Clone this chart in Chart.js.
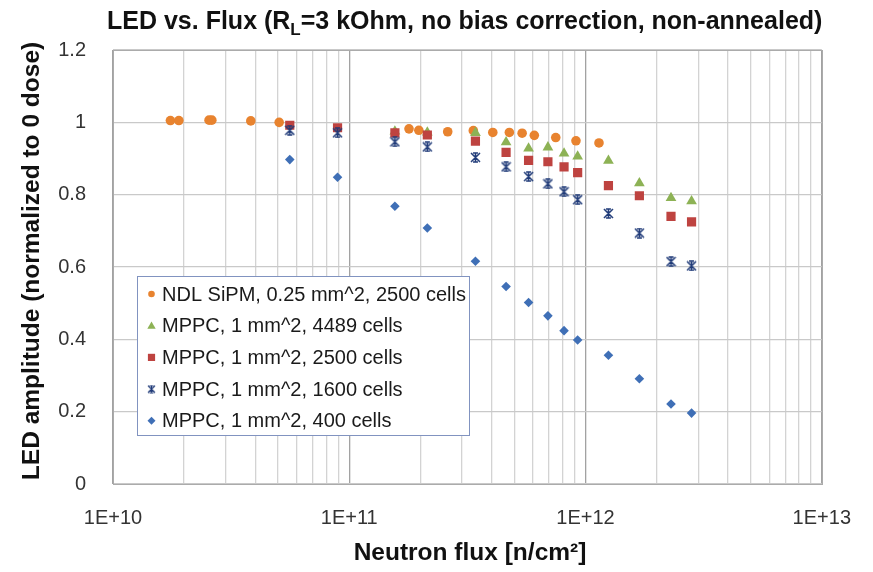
<!DOCTYPE html>
<html>
<head>
<meta charset="utf-8">
<script src="https://cdn.jsdelivr.net/npm/chart.js@4"></script>
<style>
  html, body { margin: 0; padding: 0; background: #fff; }
  #wrap { width: 873px; height: 572px; position: relative; }
</style>
</head>
<body>
<div id="wrap"><canvas id="ledFlux"></canvas></div>
<script>
(function () {
    'use strict';

    // NDL SiPM points (own flux values)
    var ndlFlux = [1.75e10, 1.90e10, 2.55e10, 2.62e10, 3.83e10, 5.05e10, 1.79e11, 1.97e11, 2.61e11,
        3.35e11, 4.05e11, 4.76e11, 5.39e11, 6.07e11, 7.48e11, 9.11e11, 1.14e12];
    var ndlAmp = [1.005, 1.005, 1.006, 1.006, 1.004, 1.000, 0.982, 0.978, 0.974,
        0.977, 0.972, 0.972, 0.970, 0.964, 0.958, 0.949, 0.943];

    // MPPC runs share the same flux steps
    var mppcFlux = [5.60e10, 8.92e10, 1.56e11, 2.14e11, 3.42e11, 4.61e11, 5.74e11,
        6.93e11, 8.11e11, 9.26e11, 1.25e12, 1.69e12, 2.30e12, 2.81e12];
    var amp4489 = [null, null, 0.975, 0.972, 0.971, 0.945, 0.928,
        0.931, 0.914, 0.906, 0.894, 0.832, 0.791, 0.782];
    var amp2500 = [0.992, 0.985, 0.971, 0.965, 0.948, 0.917, 0.895,
        0.891, 0.877, 0.861, 0.825, 0.797, 0.740, 0.725];
    var amp1600 = [0.978, 0.971, 0.946, 0.932, 0.903, 0.877, 0.850,
        0.830, 0.808, 0.786, 0.748, 0.694, 0.615, 0.603];
    var amp400 = [0.897, 0.848, 0.768, 0.708, 0.616, 0.546, 0.502,
        0.465, 0.424, 0.398, 0.356, 0.291, 0.221, 0.196];

    var seriesLabels = [
        'NDL SiPM, 0.25 mm^2, 2500 cells',
        'MPPC, 1 mm^2, 4489 cells',
        'MPPC, 1 mm^2, 2500 cells',
        'MPPC, 1 mm^2, 1600 cells',
        'MPPC, 1 mm^2, 400 cells'
    ];
    var seriesColors = ['#E8832F', '#8DB255', '#BE4340', '#1F3A78', '#3F6FB6'];

    var decadeValues = [1e10, 1e11, 1e12, 1e13];
    var decadeLabels = ['1E+10', '1E+11', '1E+12', '1E+13'];
    var yTickValues = [0, 0.2, 0.4, 0.6, 0.8, 1, 1.2];
    var yTickLabels = ['0', '0.2', '0.4', '0.6', '0.8', '1', '1.2'];

    var FONT = '"Liberation Sans", Arial, sans-serif';

    function pts(xs, ys) {
        var out = [];
        for (var i = 0; i < xs.length; i++) {
            if (ys[i] != null) out.push({ x: xs[i], y: ys[i] });
        }
        return out;
    }

    // excel-like star marker: X + vertical stroke + short caps
    function starMarker(size, color, lw) {
        var c = document.createElement('canvas');
        c.width = size;
        c.height = size;
        var g = c.getContext('2d');
        var h = size / 2, r = size / 2 - 1, cap = r * 0.55;
        g.strokeStyle = color;
        g.lineWidth = lw;
        g.beginPath();
        g.moveTo(h - r, h - r); g.lineTo(h + r, h + r);
        g.moveTo(h + r, h - r); g.lineTo(h - r, h + r);
        g.moveTo(h, h - r); g.lineTo(h, h + r);
        g.moveTo(h - cap, h - r); g.lineTo(h + cap, h - r);
        g.moveTo(h - cap, h + r); g.lineTo(h + cap, h + r);
        g.stroke();
        return c;
    }
    var starBig = starMarker(11, seriesColors[3], 1.5);
    var starSmall = starMarker(9, seriesColors[3], 1.2);

    function decade(v) {
        var l = Math.log10(v);
        return Math.abs(l - Math.round(l)) < 1e-9;
    }

    var styles = [
        { pointStyle: 'circle', radius: 4.8 },
        { pointStyle: 'triangle', radius: 6.2 },
        { pointStyle: 'rect', radius: 6.5 },
        { pointStyle: starBig, radius: 5 },
        { pointStyle: 'rectRot', radius: 4.8 }
    ];
    var seriesData = [pts(ndlFlux, ndlAmp), pts(mppcFlux, amp4489), pts(mppcFlux, amp2500),
        pts(mppcFlux, amp1600), pts(mppcFlux, amp400)];

    var datasets = seriesData.map(function (d, i) {
        return {
            label: seriesLabels[i],
            data: d,
            showLine: false,
            order: 5 - i,
            pointStyle: styles[i].pointStyle,
            pointRadius: styles[i].radius,
            pointHoverRadius: styles[i].radius,
            backgroundColor: seriesColors[i],
            borderColor: seriesColors[i],
            borderWidth: 0
        };
    });

    // title with subscript, axis titles, frame and the boxed legend
    var decorations = {
        id: 'decorations',
        afterDraw: function (chart) {
            var ctx = chart.ctx;
            var a = chart.chartArea;
            ctx.save();

            ctx.strokeStyle = '#ababab';
            ctx.lineWidth = 1;
            ctx.strokeRect(Math.round(a.left) + 0.5, Math.round(a.top) + 0.5,
                Math.round(a.right - a.left), Math.round(a.bottom - a.top));

            ctx.fillStyle = '#111';
            ctx.textBaseline = 'alphabetic';
            var big = 'bold 25px ' + FONT;
            var sub = 'bold 17px ' + FONT;
            var parts = [['LED vs. Flux (R', big, 0], ['L', sub, 6], ['=3 kOhm, no bias correction, non-annealed)', big, 0]];
            var x = 107;
            parts.forEach(function (p) {
                ctx.font = p[1];
                ctx.textAlign = 'left';
                ctx.fillText(p[0], x, 29 + p[2]);
                x += ctx.measureText(p[0]).width;
            });

            ctx.font = 'bold 24.5px ' + FONT;
            ctx.textAlign = 'center';
            ctx.textBaseline = 'middle';
            ctx.fillText('Neutron flux [n/cm\u00B2]', 470, 553);

            ctx.save();
            ctx.translate(32, 261);
            ctx.rotate(-Math.PI / 2);
            ctx.fillText('LED amplitude (normalized to 0 dose)', 0, 0);
            ctx.restore();

            // legend box
            var bx = 137.5, by = 276.5, bw = 332, bh = 159;
            ctx.fillStyle = '#fff';
            ctx.fillRect(bx, by, bw, bh);
            ctx.strokeStyle = '#8193c0';
            ctx.lineWidth = 1;
            ctx.strokeRect(bx, by, bw, bh);

            ctx.font = '20px ' + FONT;
            ctx.textAlign = 'left';
            ctx.textBaseline = 'middle';
            seriesLabels.forEach(function (label, i) {
                var ly = 294 + i * 31.7;
                var mx = 151.5;
                ctx.fillStyle = seriesColors[i];
                ctx.beginPath();
                if (i === 0) {
                    ctx.arc(mx, ly, 3.3, 0, Math.PI * 2);
                } else if (i === 1) {
                    ctx.moveTo(mx, ly - 4.2); ctx.lineTo(mx + 4.2, ly + 3); ctx.lineTo(mx - 4.2, ly + 3);
                } else if (i === 2) {
                    ctx.rect(mx - 3.6, ly - 3.6, 7.2, 7.2);
                } else if (i === 4) {
                    ctx.moveTo(mx, ly - 4); ctx.lineTo(mx + 4, ly); ctx.lineTo(mx, ly + 4); ctx.lineTo(mx - 4, ly);
                }
                ctx.closePath();
                ctx.fill();
                if (i === 3) ctx.drawImage(starSmall, mx - 4.5, ly - 4.5);
                ctx.fillStyle = '#1a1a1a';
                ctx.fillText(label, 162, ly + 1);
            });

            ctx.restore();
        }
    };

    new Chart(document.getElementById('ledFlux'), {
        type: 'scatter',
        data: { datasets: datasets },
        options: {
            responsive: true,
            maintainAspectRatio: false,
            animation: false,
            events: [],
            layout: { padding: { top: 50, right: 46, left: 0, bottom: 0 } },
            plugins: { legend: { display: false }, tooltip: { enabled: false }, title: { display: false } },
            scales: {
                x: {
                    type: 'logarithmic',
                    min: 1e10,
                    max: 1e13,
                    afterBuildTicks: function (scale) {
                        var ticks = [];
                        for (var e = 10; e <= 12; e++) {
                            for (var m = 1; m <= 9; m++) ticks.push({ value: m * Math.pow(10, e) });
                        }
                        ticks.push({ value: 1e13 });
                        scale.ticks = ticks;
                    },
                    afterFit: function (scale) { scale.height = 88; },
                    border: { display: false },
                    grid: {
                        drawTicks: false,
                        lineWidth: 1.3,
                        color: function (c) {
                            return c.tick && decade(c.tick.value) ? '#a2a2a2' : '#d3d3d3';
                        }
                    },
                    ticks: {
                        autoSkip: false,
                        maxRotation: 0,
                        padding: 22,
                        color: '#333',
                        font: { family: FONT, size: 20 },
                        callback: function (v) {
                            var k = decadeValues.indexOf(v);
                            return k >= 0 ? decadeLabels[k] : '';
                        }
                    }
                },
                y: {
                    min: 0,
                    max: 1.2,
                    afterBuildTicks: function (scale) {
                        scale.ticks = yTickValues.map(function (v) { return { value: v }; });
                    },
                    afterFit: function (scale) { scale.width = 113; },
                    border: { display: false },
                    grid: { drawTicks: false, lineWidth: 1.3, color: '#c9c9c9' },
                    ticks: {
                        padding: 27,
                        color: '#333',
                        font: { family: FONT, size: 20 },
                        callback: function (v, i) { return yTickLabels[i]; }
                    }
                }
            }
        },
        plugins: [decorations]
    });
})();
</script>
</body>
</html>
